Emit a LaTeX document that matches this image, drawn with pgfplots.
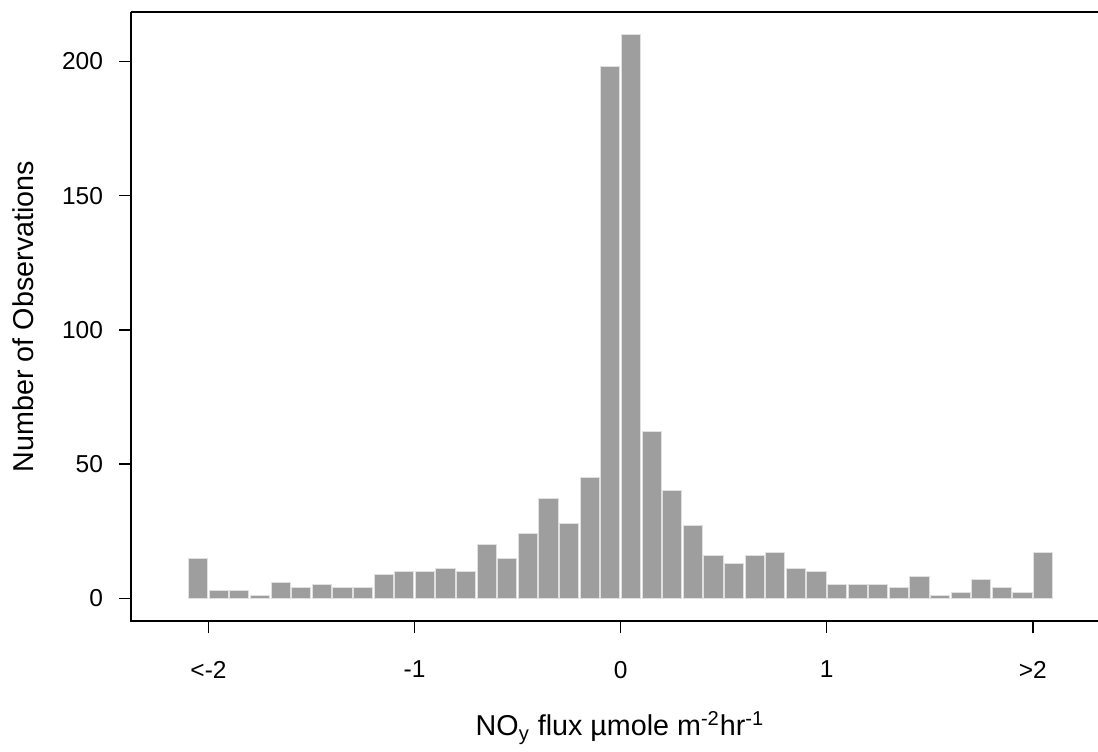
\documentclass[border=0pt]{standalone}
\usepackage{fontspec}
\setmainfont{Liberation Sans}
\usepackage{pgfplots}
\pgfplotsset{compat=1.18}

% histogram counts, bins of 0.1 centred at -2.05 ... 2.05
\begin{document}
\begin{tikzpicture}
\begin{axis}[
    at={(0,0)}, anchor=south west,
    scale only axis,
    width=483.5pt, height=304.5pt,
    xmin=-2.376, xmax=2.316,
    ymin=-8.45, ymax=218.4,
    clip=false,
    axis line style={draw=none},
    xtick={-2,-1,0,1,2},
    xticklabels={<-2,-1,0,1,>2},
    ytick={0,50,100,150,200},
    xtick pos=bottom, ytick pos=left,
    tick align=outside,
    major tick length=6pt,
    tick style={black, line width=0.65pt},
    /pgf/number format/assume math mode=true,
    ticklabel style={font=\fontsize{12.25}{14}\selectfont},
    xticklabel shift=10.5pt,
    yticklabel shift=4.5pt,
    xlabel={NO\textsubscript{y} flux µmole m\textsuperscript{-2}hr\textsuperscript{-1}},
    ylabel={Number of Observations},
    label style={font=\fontsize{14.35}{17}\selectfont},
    xlabel style={at={(axis description cs:0.5057,-0.1888)}, anchor=base},
    ylabel style={at={(axis description cs:-0.1013,0.5)}, anchor=base},
    ybar,
    bar width=0.093,
]
\addplot[fill={rgb,255:red,158;green,158;blue,158}, draw=black!12, line width=0.5pt]
coordinates {
(-2.05,15) (-1.95,3) (-1.85,3) (-1.75,1) (-1.65,6) (-1.55,4) (-1.45,5)
(-1.35,4) (-1.25,4) (-1.15,9) (-1.05,10) (-0.95,10) (-0.85,11) (-0.75,10)
(-0.65,20) (-0.55,15) (-0.45,24) (-0.35,37) (-0.25,28) (-0.15,45) (-0.05,198)
(0.05,210) (0.15,62) (0.25,40) (0.35,27) (0.45,16) (0.55,13) (0.65,16)
(0.75,17) (0.85,11) (0.95,10) (1.05,5) (1.15,5) (1.25,5) (1.35,4)
(1.45,8) (1.55,1) (1.65,2) (1.75,7) (1.85,4) (1.95,2) (2.05,17)
};
\draw[line width=0.85pt] (rel axis cs:0,1) -- (rel axis cs:0,0) -- (rel axis cs:1,0);
\draw[line width=1.15pt] (rel axis cs:0,1) -- (rel axis cs:1,1);
\end{axis}
\pgfresetboundingbox
\path[use as bounding box] (-65.5pt,-65pt) rectangle (483.5pt,310.5pt);
\end{tikzpicture}
\end{document}
